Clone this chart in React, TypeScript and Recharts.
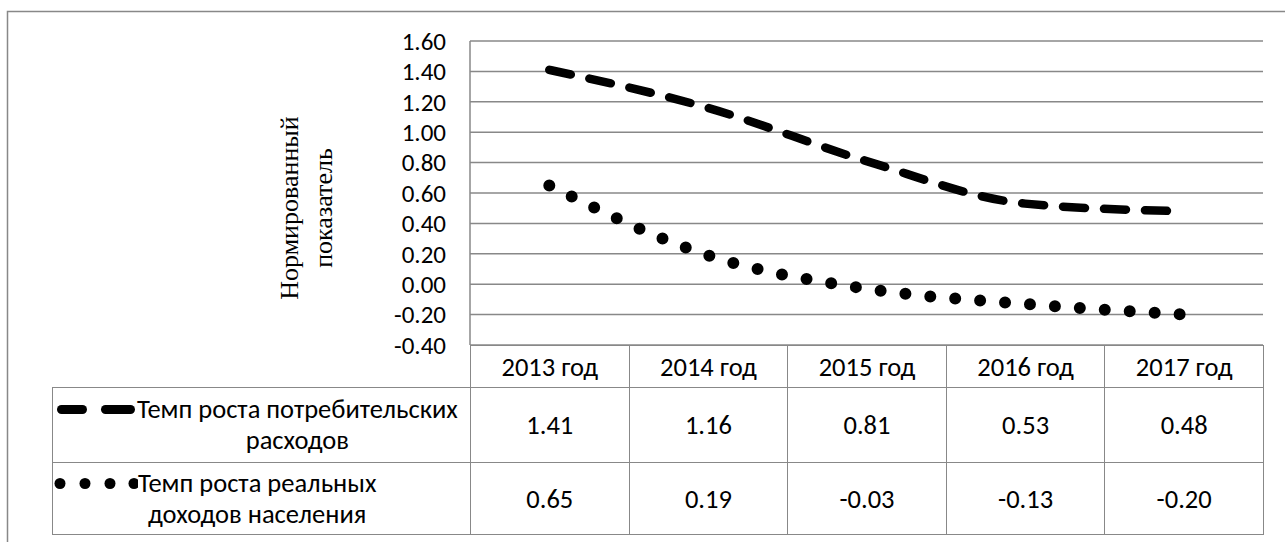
import React from 'react'
import { LineChart, Line, XAxis, YAxis, CartesianGrid } from 'recharts'

const years = ['2013 год', '2014 год', '2015 год', '2016 год', '2017 год']
const spending = [1.41, 1.16, 0.81, 0.53, 0.48]
const income = [0.65, 0.19, -0.03, -0.13, -0.2]
const yTicks = [-0.4, -0.2, 0, 0.2, 0.4, 0.6, 0.8, 1.0, 1.2, 1.4, 1.6]
const spendingName = 'Темп роста потребительских\nрасходов'
const incomeName = 'Темп роста реальных\nдоходов населения'
const axisTitle = 'Нормированный\nпоказатель'

const data = years.map((year, i) => ({ year, spending: spending[i], income: income[i] }))

const W = 1285
const H = 542
const plotLeft = 470
const plotRight = 1263
const plotTop = 41
const plotBottom = 345
const yAxisWidth = 60
const colW = (plotRight - plotLeft) / years.length
const gridColor = '#888'
const font = 'Carlito, Lato, "Open Sans", sans-serif'
const tableFontSize = 26.5

const cell: React.CSSProperties = {
  border: `1.5px solid ${gridColor}`,
  textAlign: 'center',
  verticalAlign: 'middle',
  padding: 0,
}

const DashKey = () => (
  <svg width={84} height={31} style={{ flex: 'none' }}>
    <line x1={8.5} y1={15.5} x2={29.5} y2={15.5} stroke="#000" strokeWidth={9} strokeLinecap="round" />
    <line x1={52.5} y1={15.5} x2={77.5} y2={15.5} stroke="#000" strokeWidth={9} strokeLinecap="round" />
  </svg>
)

const DotKey = () => (
  <svg width={85} height={31} style={{ flex: 'none' }}>
    {[7, 32, 57, 81].map((cx) => (
      <circle key={cx} cx={cx} cy={15.5} r={5.5} fill="#000" />
    ))}
  </svg>
)

const LegendCell = ({ name, keyIcon }: { name: string; keyIcon: React.ReactNode }) => (
  <td style={{ ...cell, textAlign: 'left' }}>
    <div style={{ display: 'flex', alignItems: 'flex-start' }}>
      {keyIcon}
      <div style={{ whiteSpace: 'pre-line', textAlign: 'center', lineHeight: '31px' }}>{name}</div>
    </div>
  </td>
)

export default function App() {
  return (
    <div style={{ position: 'absolute', left: 0, top: 0, width: W, height: H, overflow: 'hidden', background: '#fff', fontFamily: font, fontSize: tableFontSize, color: '#000' }}>
      {/* outer frame, only its top and left edges fall inside the picture */}
      <svg width={W} height={H} style={{ position: 'absolute', left: 0, top: 0 }}>
        <polyline points={`7.5,${H} 7.5,11.5 ${W},11.5`} fill="none" stroke={gridColor} strokeWidth={1.5} />
      </svg>

      <LineChart
        width={W}
        height={H}
        data={data}
        margin={{ top: plotTop, right: W - plotRight, bottom: H - plotBottom, left: plotLeft - yAxisWidth }}
        style={{ position: 'absolute', left: 0, top: 0 }}
      >
        <CartesianGrid vertical={false} stroke={gridColor} strokeWidth={1.5} />
        <XAxis dataKey="year" hide padding={{ left: colW / 2, right: colW / 2 }} />
        <YAxis
          width={yAxisWidth}
          domain={[-0.4, 1.6]}
          ticks={yTicks}
          interval={0}
          tickFormatter={(v: number) => v.toFixed(2)}
          axisLine={{ stroke: gridColor, strokeWidth: 1.5 }}
          tickLine={false}
          tickSize={6}
          tickMargin={18}
          tick={{ fill: '#000', fontSize: 25, fontFamily: font }}
        />
        <Line
          type="monotone"
          dataKey="spending"
          stroke="#000"
          strokeWidth={8.5}
          strokeDasharray="22 19"
          strokeLinecap="round"
          dot={false}
          activeDot={false}
          isAnimationActive={false}
        />
        <Line
          type="monotone"
          dataKey="income"
          stroke="#000"
          strokeWidth={12}
          strokeDasharray="0 25"
          strokeLinecap="round"
          dot={false}
          activeDot={false}
          isAnimationActive={false}
        />
      </LineChart>

      <div
        style={{
          position: 'absolute',
          left: 308 - 150,
          top: 208 - 35,
          width: 300,
          height: 70,
          transform: 'rotate(-90deg)',
          textAlign: 'center',
          whiteSpace: 'pre-line',
          fontFamily: '"Liberation Serif", serif',
          fontSize: 26,
          lineHeight: '34px',
        }}
      >
        {axisTitle}
      </div>

      <table
        style={{
          position: 'absolute',
          left: 52,
          top: plotBottom,
          borderCollapse: 'collapse',
          tableLayout: 'fixed',
          width: plotRight - 52,
          fontFamily: font,
          fontSize: tableFontSize,
        }}
      >
        <colgroup>
          <col style={{ width: plotLeft - 52 }} />
          {years.map((y) => (
            <col key={y} style={{ width: colW }} />
          ))}
        </colgroup>
        <tbody>
          <tr style={{ height: 42 }}>
            <td style={{ border: 'none', padding: 0 }} />
            {years.map((y) => (
              <td key={y} style={cell}>{y}</td>
            ))}
          </tr>
          <tr style={{ height: 75 }}>
            <LegendCell name={spendingName} keyIcon={<DashKey />} />
            {spending.map((v, i) => (
              <td key={i} style={cell}>{v.toFixed(2)}</td>
            ))}
          </tr>
          <tr style={{ height: 72 }}>
            <LegendCell name={incomeName} keyIcon={<DotKey />} />
            {income.map((v, i) => (
              <td key={i} style={cell}>{v.toFixed(2)}</td>
            ))}
          </tr>
        </tbody>
      </table>
    </div>
  )
}
